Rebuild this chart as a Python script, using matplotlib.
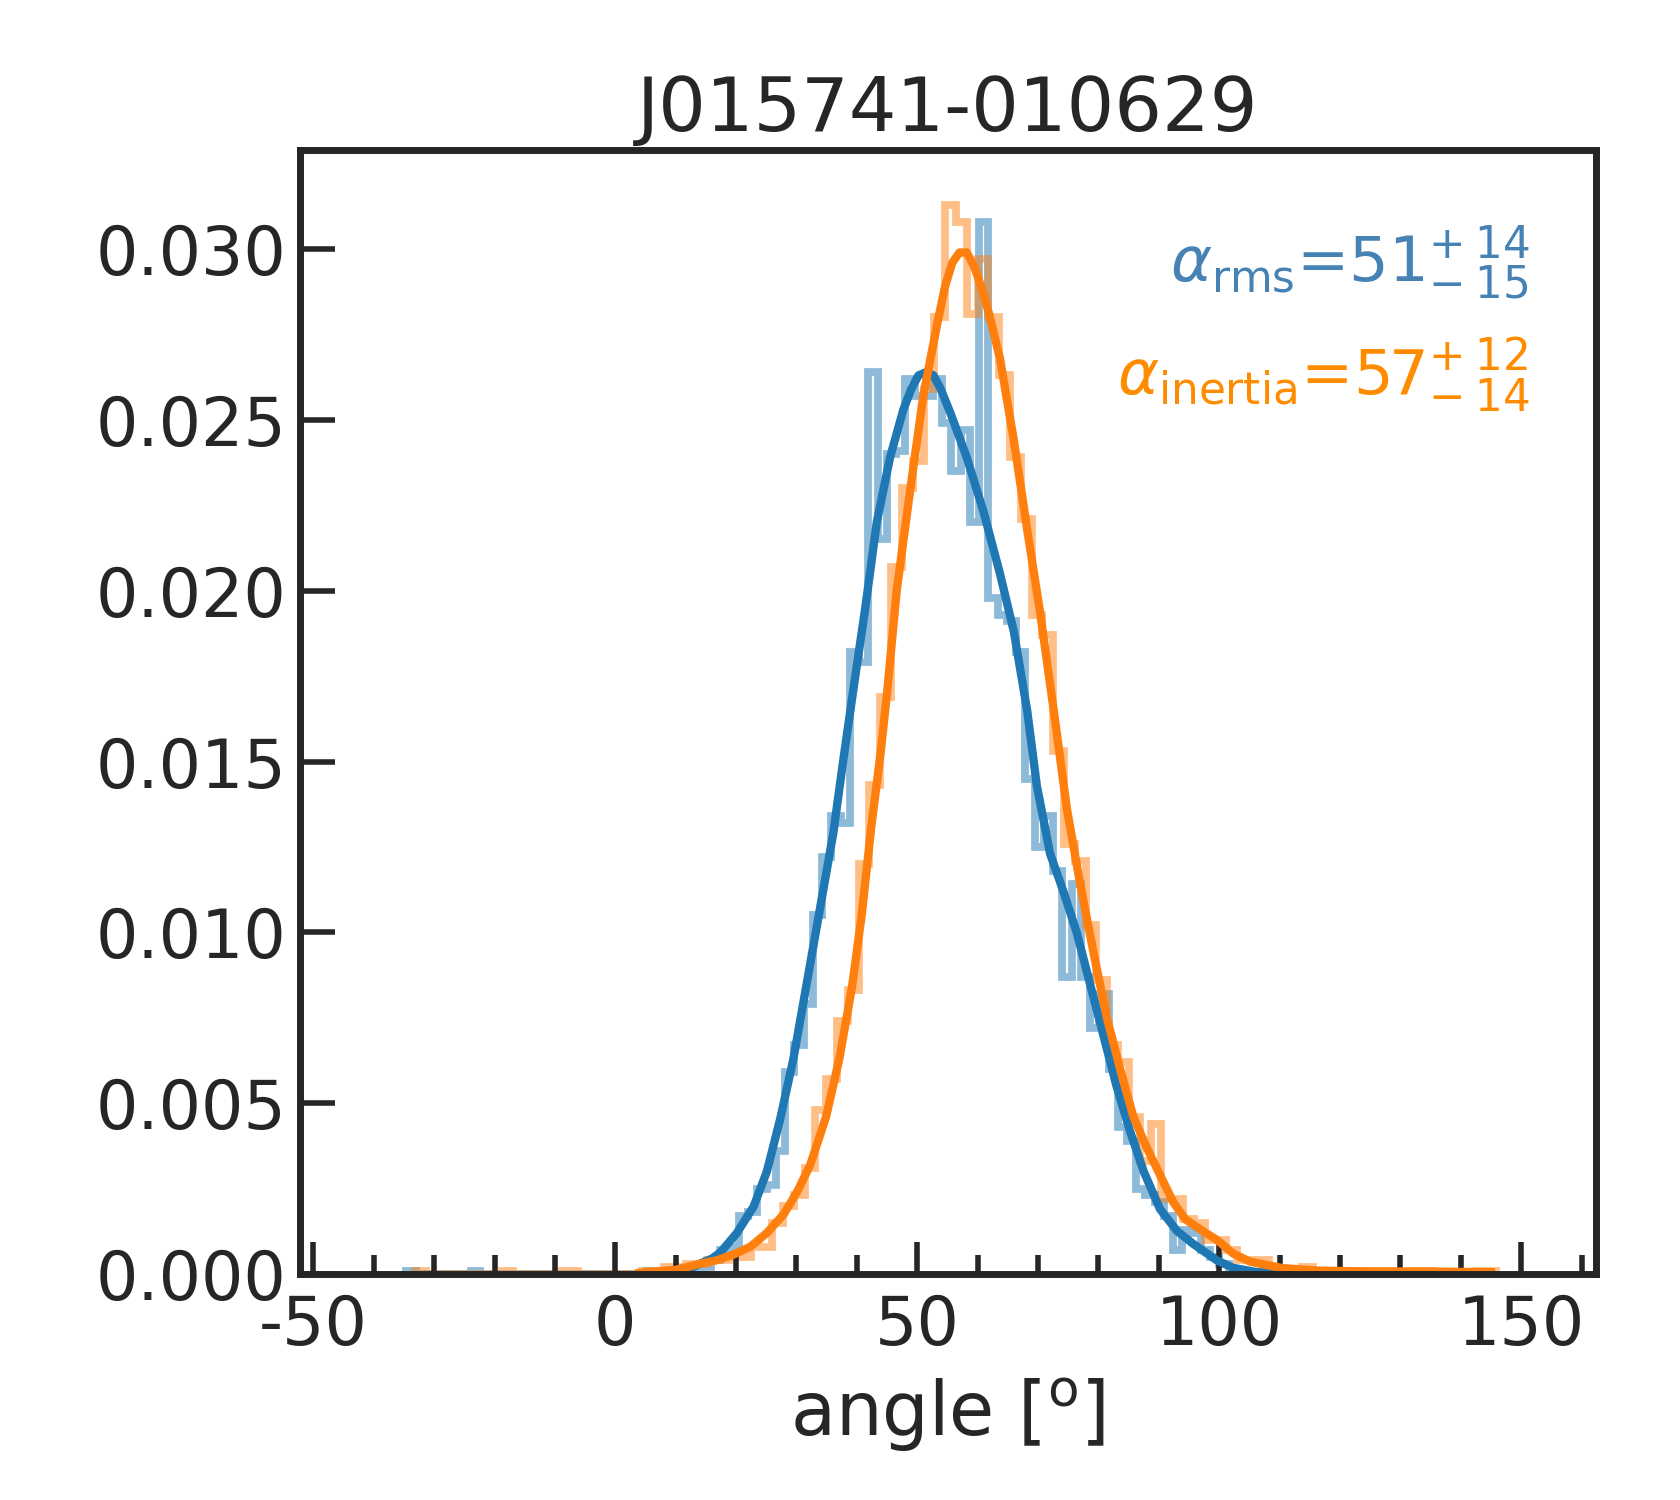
import numpy as np
import matplotlib
matplotlib.use("Agg")
import matplotlib.pyplot as plt

# ---------------- data ----------------
title = "J015741-010629"
xlabel = r"angle [$^{\rm o}$]"

# histogram bin edges (100 bins each)
rms_edges = np.linspace(-34.60, 118.40, 101)
inertia_edges = np.linspace(-33.09, 145.91, 101)

rms_density = [
    0.0001, 0, 0, 0, 0, 0, 0, 0.0001, 0, 0,
    0, 0, 0, 0, 0, 0, 0, 0, 0, 0,
    0, 0, 0, 0, 0, 0, 0.0001, 0, 0.0001, 0.0001,
    0.0001, 0.0001, 0.0002, 0.0004, 0.0007, 0.0008, 0.0017, 0.0018, 0.0025, 0.0026,
    0.0036, 0.0059, 0.0067, 0.0079, 0.0105, 0.0122, 0.0134, 0.0132, 0.0182, 0.0179,
    0.0264, 0.0215, 0.0240, 0.0241, 0.0262, 0.0257, 0.0257, 0.0262, 0.0249, 0.0235,
    0.0247, 0.0220, 0.0308, 0.0198, 0.0193, 0.0191, 0.0182, 0.0145, 0.0125, 0.0134,
    0.0118, 0.0087, 0.0114, 0.0087, 0.0072, 0.0082, 0.0060, 0.0043, 0.0039, 0.0025,
    0.0023, 0.0021, 0.0017, 0.0007, 0.0013, 0.0012, 0.0007, 0.0005, 0.0003, 0.0001,
    0.0001, 0, 0, 0, 0, 0, 0, 0, 0, 0,
]

inertia_density = [
    0.0001, 0, 0, 0, 0, 0, 0, 0, 0.0001, 0,
    0, 0, 0, 0.0001, 0.0001, 0, 0, 0, 0, 0,
    0, 0.0001, 0.0001, 0.0002, 0.0002, 0.0003, 0.0003, 0.0004, 0.0004, 0.0005,
    0.0005, 0.0008, 0.0008, 0.0015, 0.0020, 0.0023, 0.0031, 0.0048, 0.0057, 0.0074,
    0.0083, 0.0120, 0.0143, 0.0169, 0.0207, 0.0230, 0.0238, 0.0259, 0.0280, 0.0313,
    0.0308, 0.0281, 0.0297, 0.0280, 0.0263, 0.0239, 0.0221, 0.0193, 0.0187, 0.0153,
    0.0126, 0.0121, 0.0102, 0.0086, 0.0067, 0.0062, 0.0046, 0.0033, 0.0044, 0.0022,
    0.0022, 0.0016, 0.0015, 0.0010, 0.0010, 0.0007, 0.0004, 0.0004, 0.0004, 0.0001,
    0, 0.0001, 0.0002, 0, 0, 0, 0, 0.0001, 0.0001, 0.0001,
    0.0001, 0, 0.0001, 0.0001, 0, 0, 0, 0, 0.0001, 0.0001,
]

# KDE curves
rms_kde_x = [5, 10, 12, 14, 16, 17.4, 20.1, 22.9, 25.1, 27.3, 29.5, 31.7, 33.9,
             36.1, 37.8, 39.5, 41.4, 43.3, 45.5, 47.7, 49.0, 50.2, 51.5, 52.7,
             53.9, 55.5, 58.2, 61.0, 63.7, 66.0, 68.2, 69.8, 72.0, 74.2, 76.4,
             78.6, 80.8, 83.0, 85.2, 87.5, 90.2, 93.0, 95.7, 99.6, 102.3, 106,
             112]
rms_kde_y = [0.0, 0.00005, 0.00012, 0.0003, 0.00045, 0.00063, 0.00119, 0.00197,
             0.0030, 0.00453, 0.0063, 0.0085, 0.0107, 0.0129, 0.0151, 0.0172,
             0.0195, 0.0220, 0.0239, 0.0253, 0.0259, 0.0263, 0.0264, 0.0263,
             0.0259, 0.0252, 0.0239, 0.0223, 0.0205, 0.0188, 0.0165, 0.0143,
             0.0123, 0.0112, 0.0100, 0.0085, 0.0070, 0.0055, 0.0042, 0.0030,
             0.0019, 0.00126, 0.00088, 0.0004, 0.00018, 0.00006, 0.0]

inertia_kde_x = [4, 10, 14.1, 16.8, 19.6, 22.4, 25.1, 27.9, 30.1, 32.3, 34.9,
                 37.1, 39.2, 40.8, 42.4, 43.9, 45.0, 46.6, 48.8, 51.0, 53.3,
                 54.6, 55.8, 57.0, 58.2, 59.4, 60.6, 61.9, 63.7, 66.0, 68.2,
                 70.4, 72.6, 74.8, 77.0, 79.2, 81.4, 83.6, 85.8, 88.0, 90.2,
                 92.4, 94.4, 96.9, 99.6, 102.3, 105.1, 107.9, 110.6, 116, 125,
                 135, 145]
inertia_kde_y = [0.00003, 0.00012, 0.0003, 0.0004, 0.00057, 0.0008, 0.0012,
                 0.00175, 0.0024, 0.0032, 0.0046, 0.0063, 0.0084, 0.0105,
                 0.0131, 0.0152, 0.0170, 0.0200, 0.0229, 0.0257, 0.0278,
                 0.0289, 0.0296, 0.0299, 0.0299, 0.0295, 0.0289, 0.0281,
                 0.0268, 0.0244, 0.0218, 0.0193, 0.0165, 0.0136, 0.0114,
                 0.0094, 0.0075, 0.0060, 0.0046, 0.0037, 0.0029, 0.0021,
                 0.0016, 0.0013, 0.0010, 0.0006, 0.00036, 0.00026, 0.00017,
                 0.0001, 0.00007, 0.00007, 0.00005]

rms_label = r"$\alpha_{\rm rms}$=51$^{+\:14}_{-\:15}$"
inertia_label = r"$\alpha_{\rm inertia}$=57$^{+\:12}_{-\:14}$"

xticks = [-50, 0, 50, 100, 150]
yticks = [0.000, 0.005, 0.010, 0.015, 0.020, 0.025, 0.030]

# ---------------- plot ----------------
plt.rcParams['font.family'] = ['DejaVu Sans']
plt.rcParams['mathtext.fontset'] = 'dejavusans'
dark = '#262626'

fig = plt.figure(figsize=(8.4, 7.5), dpi=200)
ax = fig.add_axes([0.1786, 0.1507, 0.95 - 0.1786, 0.9 - 0.1507])

ax.stairs(rms_density, rms_edges, color='C0', alpha=0.5, lw=2.8)
ax.stairs(inertia_density, inertia_edges, color='C1', alpha=0.5, lw=2.8)
ax.plot(rms_kde_x, rms_kde_y, color='C0', lw=3.0, solid_joinstyle='round')
ax.plot(inertia_kde_x, inertia_kde_y, color='C1', lw=3.0, solid_joinstyle='round')

ax.set_xlim(-52.2, 162.4)
ax.set_ylim(0, 0.0329)
ax.set_xticks(xticks)
ax.set_xticklabels([str(t) for t in xticks])
ax.set_xticks(np.arange(-50, 161, 10), minor=True)
ax.set_yticks(yticks)
ax.set_yticklabels([f"{t:.3f}" for t in yticks])

ax.tick_params(axis='both', which='both', direction='in', colors=dark,
               width=2.0, top=False, right=False)
ax.tick_params(axis='x', which='major', length=11.5, labelsize=24, pad=7)
ax.tick_params(axis='x', which='minor', length=7)
ax.tick_params(axis='y', which='major', length=12.5, labelsize=24, pad=5)
for s in ax.spines.values():
    s.set_linewidth(2.5)
    s.set_color(dark)

ax.set_title(title, fontsize=27, color=dark, pad=7)
ax.set_xlabel(xlabel, fontsize=26.5, color=dark, labelpad=6)

ax.text(0.949, 0.900, rms_label, transform=ax.transAxes, ha='right',
        va='center', fontsize=22.5, color='steelblue')
ax.text(0.949, 0.800, inertia_label, transform=ax.transAxes, ha='right',
        va='center', fontsize=22.5, color='darkorange')

fig.savefig("out.png", dpi=200)
